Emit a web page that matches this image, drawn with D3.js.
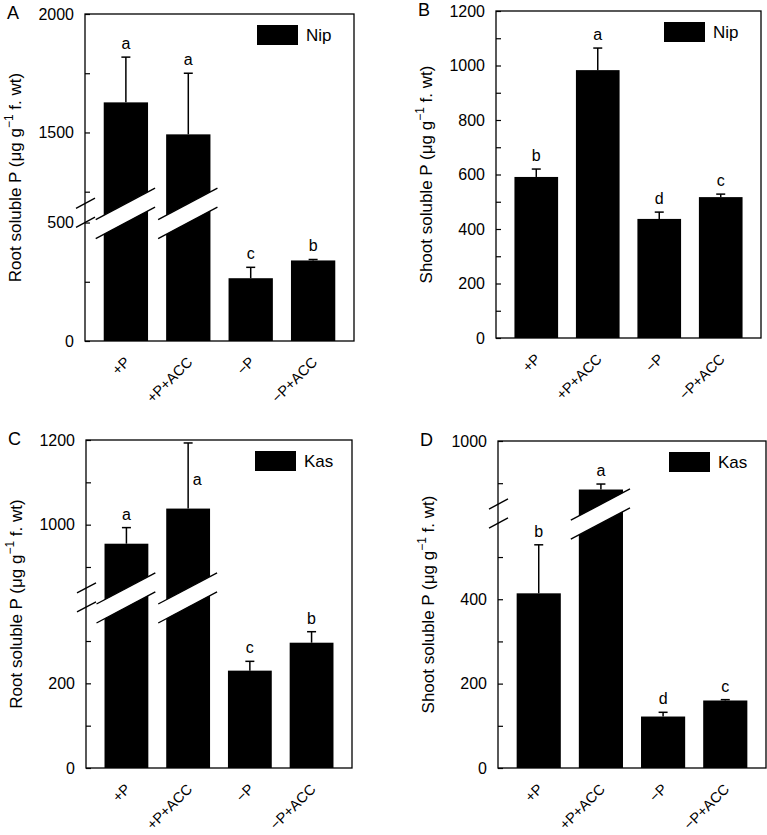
<!DOCTYPE html>
<html><head><meta charset="utf-8">
<script src="https://cdn.jsdelivr.net/npm/d3@7"></script>
<style>body{margin:0;background:#fff}svg{display:block}text{font-family:"Liberation Sans",Arial,Helvetica,sans-serif;fill:#000}</style>
</head><body><svg id="chart" width="767" height="835"></svg>
<script>
// ---------- data ----------
const categories = ["+P", "+P+ACC", "\u2212P", "\u2212P+ACC"];

const nipRootValues = [1627, 1492, 265, 340];
const nipRootErrors = [191, 258, 46, 4];
const nipRootLetters = ["a", "a", "c", "b"];
const nipRootSegments = [[0, 500], [1200, 2000]];
const nipRootMajor = [0, 500, 1500, 2000];
const nipRootMinor = [250, 1250, 1750];

const nipShootValues = [591, 983, 437, 517];
const nipShootErrors = [29, 81, 25, 11];
const nipShootLetters = ["b", "a", "d", "c"];
const nipShootSegments = [[0, 1200]];
const nipShootMajor = [0, 200, 400, 600, 800, 1000, 1200];
const nipShootMinor = [100, 300, 500, 700, 900, 1100];

const kasRootValues = [955, 1038, 230, 296];
const kasRootErrors = [38, 155, 22, 26];
const kasRootLetters = ["a", "a", "c", "b"];
const kasRootSegments = [[0, 380], [850, 1200]];
const kasRootMajor = [0, 200, 1000, 1200];
const kasRootMinor = [100, 300, 900, 1100];

const kasShootValues = [414, 885, 122, 160];
const kasShootErrors = [115, 13, 10, 2];
const kasShootLetters = ["b", "a", "d", "c"];
const kasShootSegments = [[0, 580], [850, 1000]];
const kasShootMajor = [0, 200, 400, 1000];
const kasShootMinor = [100, 300, 500, 900];

const panelLabels = ["A", "B", "C", "D"];
const legendLabels = ["Nip", "Nip", "Kas", "Kas"];
const yTitles = ["Root soluble P", "Shoot soluble P", "Root soluble P", "Shoot soluble P"];

// ---------- layout ----------
const frames = [
  {x0: 85, x1: 354, y0: 14, y1: 341},
  {x0: 496, x1: 761, y0: 11, y1: 338},
  {x0: 86, x1: 352, y0: 440, y1: 768},
  {x0: 498, x1: 766, y0: 441, y1: 768}
];
const panels = [
  {values: nipRootValues, errors: nipRootErrors, letters: nipRootLetters, segs: nipRootSegments, major: nipRootMajor, minor: nipRootMinor},
  {values: nipShootValues, errors: nipShootErrors, letters: nipShootLetters, segs: nipShootSegments, major: nipShootMajor, minor: nipShootMinor},
  {values: kasRootValues, errors: kasRootErrors, letters: kasRootLetters, segs: kasRootSegments, major: kasRootMajor, minor: kasRootMinor},
  {values: kasShootValues, errors: kasShootErrors, letters: kasShootLetters, segs: kasShootSegments, major: kasShootMajor, minor: kasShootMinor}
];

const svg = d3.select("#chart");
const GAP = 19, SLOPE = -0.53;

panels.forEach((p, i) => {
  const f = frames[i];
  const g = svg.append("g");
  const x = d3.scaleBand().domain(categories).range([f.x0, f.x1]).paddingInner(0.29).paddingOuter(0.3);

  // piecewise y scales
  let scales;
  if (p.segs.length === 1) {
    scales = [d3.scaleLinear().domain(p.segs[0]).range([f.y1, f.y0])];
  } else {
    const s1 = p.segs[0][1] - p.segs[0][0], s2 = p.segs[1][1] - p.segs[1][0];
    const k = (f.y1 - f.y0 - GAP) / (s1 + s2);
    scales = [
      d3.scaleLinear().domain(p.segs[0]).range([f.y1, f.y1 - s1 * k]),
      d3.scaleLinear().domain(p.segs[1]).range([f.y0 + s2 * k, f.y0])
    ];
  }
  const segOf = v => (scales.length > 1 && v > p.segs[0][1]) ? 1 : 0;
  const y = v => scales[segOf(v)](v);

  // bars
  p.values.forEach((v, j) => {
    g.append("rect").attr("x", x(categories[j])).attr("width", x.bandwidth())
      .attr("y", y(v)).attr("height", f.y1 - y(v)).attr("fill", "#000");
  });

  // bar breaks
  if (scales.length > 1) {
    const yLow = scales[0].range()[1], yUp = scales[1].range()[0];
    p.values.forEach((v, j) => {
      if (v <= p.segs[0][1]) return;
      const bx = x(categories[j]), cx = bx + x.bandwidth() / 2;
      const xa = bx - 8, xb = bx + x.bandwidth() + 7;
      const ly = (y0, xx) => y0 + SLOPE * (xx - cx);
      g.append("polygon").attr("fill", "#fff")
        .attr("points", [[xa, ly(yUp, xa)], [xb, ly(yUp, xb)], [xb, ly(yLow, xb)], [xa, ly(yLow, xa)]].map(d => d.join(",")).join(" "));
      [yUp, yLow].forEach(yy => {
        g.append("line").attr("x1", xa).attr("y1", ly(yy, xa)).attr("x2", xb).attr("y2", ly(yy, xb))
          .attr("stroke", "#000").attr("stroke-width", 1.4);
      });
    });
  }

  // error bars
  p.values.forEach((v, j) => {
    const cx = x(categories[j]) + x.bandwidth() / 2;
    const yt = y(v + p.errors[j]);
    g.append("line").attr("x1", cx).attr("x2", cx).attr("y1", y(v)).attr("y2", yt).attr("stroke", "#000").attr("stroke-width", 1.5);
    g.append("line").attr("x1", cx - 4.5).attr("x2", cx + 4.5).attr("y1", yt).attr("y2", yt).attr("stroke", "#000").attr("stroke-width", 1.5);
    // significance letters
    let lx = cx, lyb = yt - 8;
    if (lyb - 12 < f.y0) { lx = cx + 9; lyb = y(v) - 24; }
    g.append("text").attr("x", lx).attr("y", lyb).attr("text-anchor", "middle").attr("font-size", 16).text(p.letters[j]);
  });

  // y axes per segment
  scales.forEach((sc, si) => {
    const d = sc.domain();
    const inSeg = t => t >= d[0] && t <= d[1];
    const ax = g.append("g").attr("transform", `translate(${f.x0},0)`)
      .call(d3.axisLeft(sc).tickValues(p.major.filter(inSeg)).tickSizeInner(-5).tickSizeOuter(0).tickPadding(11).tickFormat(d3.format("d")));
    ax.select(".domain").remove();
    ax.selectAll("text").attr("font-size", 16).attr("font-family", "Liberation Sans, Arial, sans-serif");
    ax.selectAll("line").attr("stroke-width", 1.2);
    const mx = g.append("g").attr("transform", `translate(${f.x0},0)`)
      .call(d3.axisLeft(sc).tickValues(p.minor.filter(inSeg)).tickSizeInner(-5).tickSizeOuter(0).tickFormat(""));
    mx.select(".domain").remove();
    mx.selectAll("line").attr("stroke-width", 1.2);
  });

  // frame
  g.append("rect").attr("x", f.x0).attr("y", f.y0).attr("width", f.x1 - f.x0).attr("height", f.y1 - f.y0)
    .attr("fill", "none").attr("stroke", "#000").attr("stroke-width", 1.3);

  // axis break marks
  if (scales.length > 1) {
    [scales[1].range()[0], scales[0].range()[1]].forEach(yy => {
      g.append("line").attr("x1", f.x0 - 9).attr("y1", yy - SLOPE * 9).attr("x2", f.x0 + 10).attr("y2", yy + SLOPE * 10)
        .attr("stroke", "#000").attr("stroke-width", 1.4);
    });
  }

  // x labels
  categories.forEach(c => {
    const ax = x(c) + x.bandwidth() / 2 + 5, ay = f.y1 + 22;
    g.append("text").attr("transform", `translate(${ax},${ay}) rotate(-45)`).attr("text-anchor", "end")
      .attr("font-size", 14.5).text(c);
  });

  // legend
  g.append("rect").attr("x", f.x1 - 97).attr("y", f.y0 + 11).attr("width", 41).attr("height", 20).attr("fill", "#000");
  g.append("text").attr("x", f.x1 - 48).attr("y", f.y0 + 27).attr("font-size", 17).text(legendLabels[i]);

  // y title
  const tx = f.x0 - 68, ty = (f.y0 + f.y1) / 2;
  const t = g.append("text").attr("transform", `translate(${tx},${ty}) rotate(-90)`).attr("text-anchor", "middle")
    .attr("dominant-baseline", "middle").attr("font-size", 17);
  t.append("tspan").text(yTitles[i] + " (\u03bcg g");
  t.append("tspan").attr("font-size", 12).attr("dy", -7).text("\u22121");
  t.append("tspan").attr("dy", 7).text(" f. wt)");

  // panel letter
  g.append("text").attr("x", f.x0 - 78).attr("y", f.y0 + 5).attr("font-size", 18).text(panelLabels[i]);
});
</script></body></html>
